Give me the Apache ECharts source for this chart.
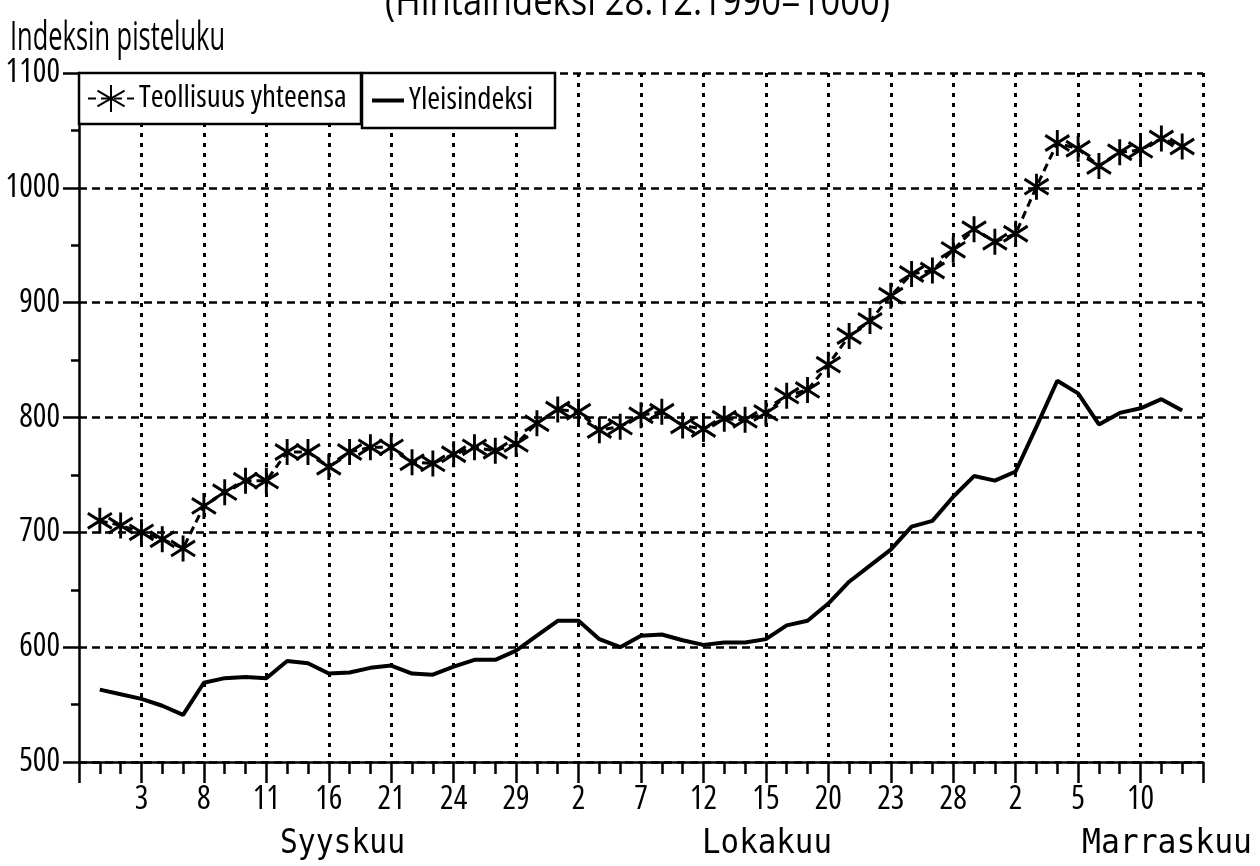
<!DOCTYPE html>
<html>
<head>
<meta charset="utf-8">
<script src="https://cdn.jsdelivr.net/npm/echarts@6/dist/echarts.min.js"></script>
<style>
  html, body { margin: 0; padding: 0; background: #fff; }
  #chart { width: 1260px; height: 866px; }
</style>
</head>
<body>
<div id="chart"></div>
<script>
// päivämäärät x-akselilla (joka kolmas pykälä)
const tickLabels = ['3', '8', '11', '16', '21', '24', '29', '2', '7', '12', '15', '20', '23', '28', '2', '5', '10'];
const monthLabels = ['Syyskuu', 'Lokakuu', 'Marraskuu'];
const tickCount = 55; // pykälät 0..54

// Teollisuus yhteensa (pykälät 1..53)
const teollisuus = [
  710, 706, 700, 694, 686, 723, 735, 745, 745, 770,
  770, 757, 770, 774, 774, 761, 760, 768, 774, 771,
  777, 795, 807, 805, 789, 792, 802, 805, 793, 790,
  799, 798, 804, 819, 824, 846, 871, 884, 906, 925,
  928, 946, 964, 953, 960, 1001, 1039, 1034, 1019, 1031,
  1033, 1043, 1036
];

// Yleisindeksi (pykälät 1..53)
const yleisindeksi = [
  563, 559, 555, 549, 541, 569, 573, 574, 573, 588,
  586, 577, 578, 582, 584, 577, 576, 583, 589, 589,
  597, 610, 623, 623, 607, 600, 610, 611, 606, 602,
  604, 604, 607, 619, 623, 638, 657, 671, 685, 705,
  710, 731, 749, 745, 753, 792, 832, 821, 794, 804,
  808, 816, 806
];

const categories = Array.from({ length: tickCount }, (_, i) => String(i));

// etsitään kapein asennettu fontti (alkuperäinen on kapeaa groteskia)
const probe = document.createElement('canvas').getContext('2d');
const measure = (font, txt) => { probe.font = font; return probe.measureText(txt).width; };
const candidates = [
  ['extra-condensed', 'Noto Sans'],
  ['extra-condensed', 'Open Sans'],
  ['condensed', 'Noto Sans'],
  ['condensed', 'Open Sans'],
  ['normal', 'Liberation Sans Narrow'],
  ['condensed', 'Liberation Sans'],
  ['normal', 'Roboto Condensed'],
  ['condensed', 'Roboto'],
  ['normal', 'DejaVu Sans Condensed'],
  ['condensed', 'DejaVu Sans'],
  ['normal', 'Liberation Sans']
];
let best = null;
candidates.forEach(([st, fam]) => {
  const sample = 'Indeksin pisteluku 1100';
  const w = measure(`${st} 100px "${fam}", monospace`, sample);
  const wm = measure(`${st} 100px monospace`, sample);
  if (Math.abs(w - wm) < 0.5) return;
  if (!best || w < best.w - 0.5) best = { st, fam, w };
});
if (!best) best = { st: 'normal', fam: 'sans-serif' };
const stretch = best.st;
const family = `"${best.fam}", sans-serif`;
const fontStr = (size) => `${stretch} ${size}px ${family}`;
const clamp = (v, a, b) => Math.max(a, Math.min(b, v));

const axisSize = Math.round(clamp(55 / (measure(fontStr(100), '1100') / 100), 22, 34));
const legendSize = Math.round(clamp(208 / (measure(fontStr(100), 'Teollisuus yhteensa') / 100), 22, 32));
const fitScale = (font, txt, target) => Math.min(1, target / measure(font, txt));

const mono = '"DejaVu Sans Mono", "Liberation Mono", monospace';
const star = 'path://M10,0L10,24M0,5L20,19M0,19L20,5';
const isMajor = (i) => i % 3 === 0;

const chart = echarts.init(document.getElementById('chart'));

const textGraphic = (txt, x, y, size, fam, target) => {
  const font = `${size}px ${fam}`;
  return {
    type: 'text',
    x: x,
    y: y,
    scaleX: fitScale(font, txt, target),
    style: { text: txt, font: font, fill: '#000' }
  };
};

const option = {
  animation: false,
  backgroundColor: '#fff',
  grid: { left: 79, right: 57, top: 73, bottom: 104, outerBoundsMode: 'none' },
  legend: [
    {
      data: ['Teollisuus yhteensa'],
      left: 79,
      top: 73,
      padding: [10, 8, 10, 8],
      itemWidth: 46,
      itemHeight: 34,
      itemGap: 0,
      selectedMode: false,
      backgroundColor: '#fff',
      borderColor: '#000',
      borderWidth: 2.5,
      borderRadius: 0,
      textStyle: {
        fontFamily: family, fontWeight: stretch, fontSize: legendSize,
        color: '#000', width: 214, overflow: 'truncate', lineHeight: 30
      },
      z: 10
    },
    {
      data: [{ name: 'Yleisindeksi', icon: 'rect' }],
      left: 362,
      top: 73,
      padding: [12, 8, 12, 10],
      itemWidth: 32,
      itemHeight: 4,
      selectedMode: false,
      backgroundColor: '#fff',
      borderColor: '#000',
      borderWidth: 2.5,
      borderRadius: 0,
      textStyle: {
        fontFamily: family, fontWeight: stretch, fontSize: legendSize,
        color: '#000', width: 138, overflow: 'truncate', lineHeight: 30
      },
      z: 10
    }
  ],
  xAxis: [
    {
      type: 'category',
      data: categories,
      boundaryGap: false,
      z: 3,
      axisLine: { lineStyle: { color: '#000', width: 2.5 } },
      axisTick: { interval: 0, length: 12, lineStyle: { color: '#000', width: 2.5 } },
      axisLabel: {
        interval: (i) => isMajor(i) && i > 0 && i < 54,
        formatter: (v, i) => tickLabels[i / 3 - 1] || '',
        margin: 22,
        color: '#000',
        fontFamily: family,
        fontWeight: stretch,
        fontSize: axisSize
      },
      splitLine: {
        show: true,
        interval: (i) => isMajor(i) && i > 0,
        lineStyle: { color: '#000', width: 3, type: [4, 6] }
      }
    },
    {
      type: 'category',
      data: categories,
      boundaryGap: false,
      position: 'bottom',
      z: 3,
      axisLine: { show: false },
      axisTick: {
        interval: (i) => isMajor(i),
        length: 21,
        lineStyle: { color: '#000', width: 2.5 }
      },
      axisLabel: { show: false },
      splitLine: { show: false }
    }
  ],
  yAxis: {
    type: 'value',
    min: 500,
    max: 1100,
    interval: 100,
    axisLine: { show: true, lineStyle: { color: '#000', width: 2.5 } },
    axisTick: { show: true, length: 16, lineStyle: { color: '#000', width: 2.5 } },
    minorTick: { show: true, splitNumber: 2, length: 8, lineStyle: { color: '#000', width: 2.5 } },
    axisLabel: {
      margin: 19,
      color: '#000',
      fontFamily: family,
      fontWeight: stretch,
      fontSize: axisSize,
      formatter: (v) => String(v)
    },
    splitLine: { show: true, lineStyle: { color: '#000', width: 2.5, type: [8, 5] } }
  },
  series: [
    {
      name: 'Teollisuus yhteensa',
      type: 'line',
      data: teollisuus.map((v, i) => [i + 1, v]),
      symbol: star,
      symbolSize: [24, 26],
      showAllSymbol: true,
      itemStyle: { color: '#000', borderColor: '#000', borderWidth: 3 },
      lineStyle: { color: '#000', width: 3, type: [8, 5] },
      z: 5
    },
    {
      name: 'Yleisindeksi',
      type: 'line',
      data: yleisindeksi.map((v, i) => [i + 1, v]),
      symbol: 'none',
      itemStyle: { color: '#000' },
      lineStyle: { color: '#000', width: 4 },
      z: 4
    }
  ],
  graphic: [
    textGraphic('(Hintaindeksi 28.12.1990=1000)', 385, -18, 42, family, 505),
    textGraphic('Indeksin pisteluku', 10, 18, 41, family, 215),
    textGraphic(monthLabels[0], 280, 828, 33, mono, 125),
    textGraphic(monthLabels[1], 702, 828, 33, mono, 130),
    textGraphic(monthLabels[2], 1082, 828, 33, mono, 170)
  ]
};

chart.setOption(option);
</script>
</body>
</html>
